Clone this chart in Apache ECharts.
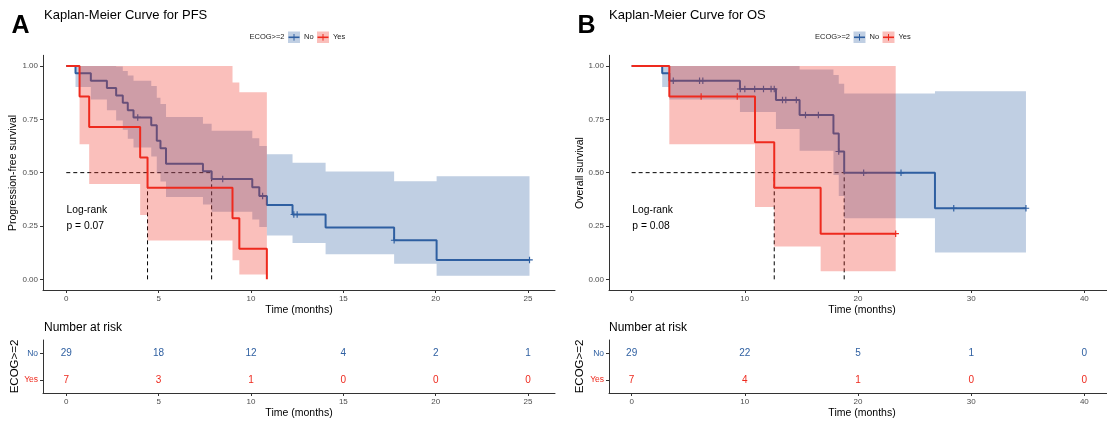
<!DOCTYPE html>
<html><head><meta charset="utf-8">
<script src="https://cdn.jsdelivr.net/npm/echarts@6/dist/echarts.min.js"></script>
<style>html,body{margin:0;padding:0;background:#fff}#c{width:1107px;height:424px}</style>
</head><body><div id="c"></div>
<script>
// ---------- DATA ----------
// PFS, ECOG>=2 = No
const pfsNoTime  = [0, 0.5, 1.33, 2.2, 2.7, 3.06, 3.33, 3.64, 4.6, 4.9, 5.1, 5.4, 7.4, 7.87, 10.07, 10.45, 10.86, 12.25, 14.04, 17.75, 20.05, 25.08];
const pfsNoSurv  = [1, 0.966, 0.931, 0.897, 0.862, 0.828, 0.793, 0.759, 0.722, 0.650, 0.614, 0.542, 0.506, 0.470, 0.431, 0.391, 0.348, 0.304, 0.243, 0.183, 0.091, 0.091];
const pfsNoUpper = [1, 1, 1, 1, 0.997, 0.977, 0.955, 0.931, 0.906, 0.851, 0.822, 0.761, 0.729, 0.696, 0.661, 0.625, 0.586, 0.546, 0.505, 0.460, 0.483];
const pfsNoLower = [1, 0.901, 0.843, 0.792, 0.745, 0.701, 0.659, 0.618, 0.576, 0.497, 0.459, 0.386, 0.351, 0.317, 0.280, 0.245, 0.206, 0.170, 0.117, 0.073, 0.017];
const pfsNoCensorTime = [3.87, 8.47, 10.63, 12.32, 12.5, 17.75, 25.08];
const pfsNoCensorSurv = [0.759, 0.470, 0.391, 0.304, 0.304, 0.183, 0.091];
// PFS, ECOG>=2 = Yes
const pfsYesTime  = [0, 0.72, 1.24, 4.0, 4.4, 9.0, 9.37, 10.86];
const pfsYesSurv  = [1, 0.857, 0.714, 0.571, 0.429, 0.286, 0.143, 0];
const pfsYesUpper = [1, 1, 1, 1, 1, 0.922, 0.877];
const pfsYesLower = [1, 0.633, 0.447, 0.301, 0.182, 0.089, 0.023];
const pfsMedians = [4.4, 7.87];
const pfsPvalue = 'p = 0.07';

// OS, ECOG>=2 = No
const osNoTime  = [0, 2.7, 3.33, 9.57, 12.75, 14.84, 17.83, 18.3, 18.78, 26.8, 34.84];
const osNoSurv  = [1, 0.966, 0.931, 0.892, 0.840, 0.770, 0.684, 0.599, 0.499, 0.333, 0.333];
const osNoUpper = [1, 1, 1, 1, 1, 0.983, 0.958, 0.917, 0.871, 0.882];
const osNoLower = [1, 0.901, 0.843, 0.784, 0.704, 0.603, 0.489, 0.391, 0.286, 0.126];
const osNoCensorTime = [3.68, 6.0, 6.29, 9.6, 10.0, 10.87, 11.65, 12.32, 12.6, 13.33, 13.62, 14.55, 15.36, 16.5, 18.3, 20.5, 23.8, 28.46, 34.84];
const osNoCensorSurv = [0.931, 0.931, 0.931, 0.892, 0.892, 0.892, 0.892, 0.892, 0.892, 0.840, 0.840, 0.840, 0.770, 0.770, 0.599, 0.499, 0.499, 0.333, 0.333];
// OS, ECOG>=2 = Yes
const osYesTime  = [0, 3.33, 10.9, 12.6, 16.7, 23.33];
const osYesSurv  = [1, 0.857, 0.643, 0.429, 0.214, 0.214];
const osYesUpper = [1, 1, 1, 1, 1];
const osYesLower = [1, 0.633, 0.339, 0.154, 0.038];
const osYesCensorTime = [6.14, 9.33, 23.33];
const osYesCensorSurv = [0.857, 0.857, 0.214];
const osMedians = [12.6, 18.78];
const osPvalue = 'p = 0.08';

// Number at risk tables
const pfsRiskTimes = [0, 5, 10, 15, 20, 25];
const pfsRiskNo    = [29, 18, 12, 4, 2, 1];
const pfsRiskYes   = [7, 3, 1, 0, 0, 0];
const osRiskTimes  = [0, 10, 20, 30, 40];
const osRiskNo     = [29, 22, 5, 1, 0];
const osRiskYes    = [7, 4, 1, 0, 0];

// tick labels
const pfsXTicks = [0, 5, 10, 15, 20, 25];
const osXTicks  = [0, 10, 20, 30, 40];
const survTicks = [0, 0.25, 0.5, 0.75, 1];
const groups = ['Yes', 'No'];

// ---------- STYLE ----------
const BLUE = '#2E5FA1', RED = '#EE2A1E';
const BLUE_BAND = 'rgba(46,95,161,0.3)', RED_BAND = 'rgba(238,42,30,0.3)';
const FONT = 'Liberation Sans, Arial, sans-serif';
const AX = '#333', TXT = '#4d4d4d';

const chart = echarts.init(document.getElementById('c'), null, {renderer: 'canvas'});

function xAxis(grid, min, max, ticks) {
  return {type: 'value', gridIndex: grid, min: min, max: max, position: 'bottom',
    axisLine: {show: true, onZero: false, lineStyle: {color: AX, width: 1}},
    axisTick: {show: true, length: 3, customValues: ticks, lineStyle: {color: AX}},
    axisLabel: {customValues: ticks, color: TXT, fontSize: 8, margin: 5, fontFamily: FONT},
    splitLine: {show: false}};
}
function yAxisSurv(grid) {
  return {type: 'value', gridIndex: grid, min: -0.05, max: 1.05, position: 'left',
    axisLine: {show: true, onZero: false, lineStyle: {color: AX, width: 1}},
    axisTick: {show: true, length: 3, customValues: survTicks, lineStyle: {color: AX}},
    axisLabel: {customValues: survTicks, color: TXT, fontSize: 8, margin: 5, fontFamily: FONT,
      formatter: v => v.toFixed(2)},
    splitLine: {show: false}};
}
function yAxisRisk(grid) {
  return {type: 'category', gridIndex: grid, data: groups, position: 'left',
    axisLine: {show: true, onZero: false, lineStyle: {color: AX, width: 1}},
    axisTick: {show: true, length: 3, alignWithLabel: true, lineStyle: {color: AX}},
    axisLabel: {margin: 5, fontSize: 8.5, fontFamily: FONT,
      formatter: v => v === 'No' ? '{b|No}' : '{r|Yes}',
      rich: {b: {color: BLUE, fontSize: 8.5, fontFamily: FONT}, r: {color: RED, fontSize: 8.5, fontFamily: FONT}}},
    splitLine: {show: false}};
}

function band(ax, times, lower, upper, color, z) {
  return {type: 'custom', xAxisIndex: ax, yAxisIndex: ax, z: z, silent: true, clip: false,
    data: [[times[0], upper[0]]],
    renderItem: function (params, api) {
      const pts = [];
      for (let i = 0; i < upper.length; i++) {
        pts.push(api.coord([times[i], upper[i]]));
        pts.push(api.coord([times[i + 1], upper[i]]));
      }
      for (let i = lower.length - 1; i >= 0; i--) {
        pts.push(api.coord([times[i + 1], lower[i]]));
        pts.push(api.coord([times[i], lower[i]]));
      }
      return {type: 'polygon', shape: {points: pts}, style: {fill: color}};
    }};
}
function curve(ax, times, surv, color, z) {
  return {type: 'line', xAxisIndex: ax, yAxisIndex: ax, step: 'end', z: z, silent: true,
    symbol: 'none', data: times.map((t, i) => [t, surv[i]]),
    lineStyle: {color: color, width: 2}};
}
const PLUS = 'path://M-0.9,-5 L0.9,-5 L0.9,-0.9 L5,-0.9 L5,0.9 L0.9,0.9 L0.9,5 L-0.9,5 L-0.9,0.9 L-5,0.9 L-5,-0.9 L-0.9,-0.9 Z';
function censor(ax, times, surv, color, z) {
  return {type: 'scatter', xAxisIndex: ax, yAxisIndex: ax, z: z, silent: true,
    symbol: PLUS, symbolSize: 6.5, data: times.map((t, i) => [t, surv[i]]),
    itemStyle: {color: color, opacity: 1}};
}
function seg(ax, a, b) {
  return {type: 'line', xAxisIndex: ax, yAxisIndex: ax, z: 1, silent: true, symbol: 'none',
    data: [a, b], lineStyle: {color: '#000', width: 1, type: [4, 3]}};
}
function medianLines(ax, meds) {
  const out = [seg(ax, [0, 0.5], [Math.max.apply(null, meds), 0.5])];
  meds.forEach(m => out.push(seg(ax, [m, 0], [m, 0.5])));
  return out;
}
function risk(ax, times, vals, grp, color) {
  return {type: 'scatter', xAxisIndex: ax, yAxisIndex: ax, silent: true, symbolSize: 2,
    itemStyle: {color: 'rgba(0,0,0,0)'},
    data: times.map((t, i) => [t, grp, vals[i]]),
    label: {show: true, position: 'inside', formatter: p => String(p.value[2]),
      color: color, fontSize: 10, fontFamily: FONT, opacity: 1}};
}

function txt(x, y, s, size, opt) {
  return Object.assign({type: 'text', x: x, y: y, silent: true,
    style: Object.assign({text: s, fontSize: size, fontFamily: FONT, fill: '#000',
      textAlign: 'left', textVerticalAlign: 'middle'}, (opt && opt.style) || {})},
    opt && opt.rotation !== undefined ? {rotation: opt.rotation} : {});
}
function legend(x0) {
  const els = [];
  const ly = 37;
  els.push(txt(x0, ly, 'ECOG>=2', 7.5, {style: {fill: '#222'}}));
  const keys = [[x0 + 38.5, BLUE, BLUE_BAND, 'No'], [x0 + 67.5, RED, RED_BAND, 'Yes']];
  keys.forEach(k => {
    els.push({type: 'rect', shape: {x: k[0], y: ly - 5.5, width: 12, height: 11.5}, style: {fill: k[2]}, silent: true});
    els.push({type: 'line', shape: {x1: k[0] + 0.5, y1: ly + 0.3, x2: k[0] + 11.5, y2: ly + 0.3}, style: {stroke: k[1], lineWidth: 1.6}, silent: true});
    els.push({type: 'line', shape: {x1: k[0] + 6, y1: ly - 3, x2: k[0] + 6, y2: ly + 3.6}, style: {stroke: k[1], lineWidth: 1}, silent: true});
    els.push(txt(k[0] + 16, ly, k[3], 7.5, {style: {fill: '#222'}}));
  });
  return els;
}

const graphics = [].concat(
  [txt(11.5, 26.5, 'A', 25, {style: {fontWeight: 'bold'}}),
   txt(44, 15.5, 'Kaplan-Meier Curve for PFS', 13),
   txt(577.5, 26.5, 'B', 25, {style: {fontWeight: 'bold'}}),
   txt(609, 15.5, 'Kaplan-Meier Curve for OS', 13)],
  legend(249.5), legend(815),
  [txt(13.5, 173, 'Progression-free survival', 10.5, {rotation: Math.PI / 2, style: {textAlign: 'center'}}),
   txt(580, 173, 'Overall survival', 10.5, {rotation: Math.PI / 2, style: {textAlign: 'center'}}),
   txt(299, 310, 'Time (months)', 10.5, {style: {textAlign: 'center'}}),
   txt(862, 310, 'Time (months)', 10.5, {style: {textAlign: 'center'}}),
   txt(66.5, 210, 'Log-rank', 10.3),
   txt(66.5, 226.5, pfsPvalue, 10.3),
   txt(632.3, 210, 'Log-rank', 10.3),
   txt(632.3, 226.5, osPvalue, 10.3),
   txt(44, 328, 'Number at risk', 12),
   txt(609, 328, 'Number at risk', 12),
   txt(14.4, 366.5, 'ECOG>=2', 11.5, {rotation: Math.PI / 2, style: {textAlign: 'center'}}),
   txt(579.5, 366.5, 'ECOG>=2', 11.5, {rotation: Math.PI / 2, style: {textAlign: 'center'}}),
   txt(299, 413.5, 'Time (months)', 10.5, {style: {textAlign: 'center'}}),
   txt(862, 413.5, 'Time (months)', 10.5, {style: {textAlign: 'center'}})]
);

const option = {
  animation: false,
  backgroundColor: '#fff',
  textStyle: {fontFamily: FONT},
  grid: [
    {left: 43, top: 55.3, width: 512, height: 234.7},
    {left: 43, top: 340, width: 512, height: 53},
    {left: 609, top: 55.3, width: 506, height: 234.7},
    {left: 609, top: 340, width: 506, height: 53}
  ],
  xAxis: [xAxis(0, -1.26, 26.46, pfsXTicks), xAxis(1, -1.26, 26.46, pfsXTicks),
          xAxis(2, -2, 42, osXTicks), xAxis(3, -2, 42, osXTicks)],
  yAxis: [yAxisSurv(0), yAxisRisk(1), yAxisSurv(2), yAxisRisk(3)],
  series: [].concat(
    medianLines(0, pfsMedians),
    [band(0, pfsNoTime, pfsNoLower, pfsNoUpper, BLUE_BAND, 2),
     curve(0, pfsNoTime, pfsNoSurv, BLUE, 3),
     censor(0, pfsNoCensorTime, pfsNoCensorSurv, BLUE, 3),
     band(0, pfsYesTime, pfsYesLower, pfsYesUpper, RED_BAND, 4),
     curve(0, pfsYesTime, pfsYesSurv, RED, 5),
     risk(1, pfsRiskTimes, pfsRiskNo, 'No', BLUE),
     risk(1, pfsRiskTimes, pfsRiskYes, 'Yes', RED)],
    medianLines(2, osMedians),
    [band(2, osNoTime, osNoLower, osNoUpper, BLUE_BAND, 2),
     curve(2, osNoTime, osNoSurv, BLUE, 3),
     censor(2, osNoCensorTime, osNoCensorSurv, BLUE, 3),
     band(2, osYesTime, osYesLower, osYesUpper, RED_BAND, 4),
     curve(2, osYesTime, osYesSurv, RED, 5),
     censor(2, osYesCensorTime, osYesCensorSurv, RED, 5),
     risk(3, osRiskTimes, osRiskNo, 'No', BLUE),
     risk(3, osRiskTimes, osRiskYes, 'Yes', RED)]
  ),
  graphic: graphics
};
chart.setOption(option);
</script>
</body></html>
